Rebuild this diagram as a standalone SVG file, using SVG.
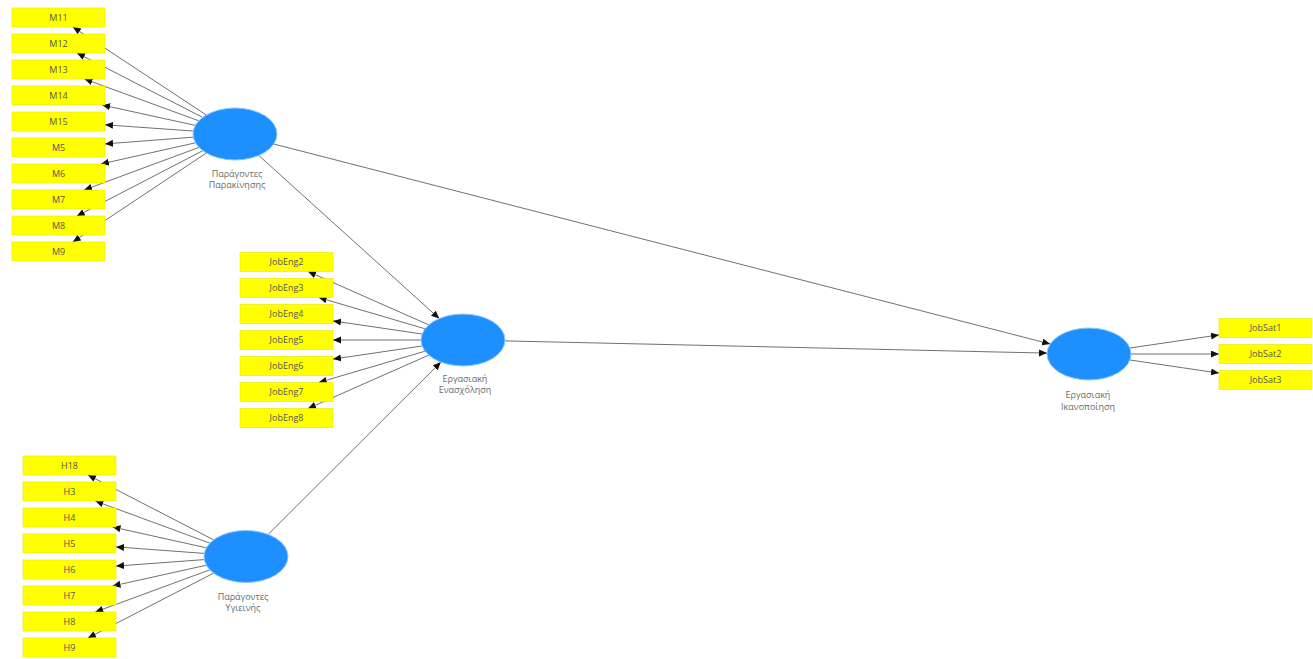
<svg xmlns="http://www.w3.org/2000/svg" width="1313" height="659" viewBox="0 0 1313 659">
<style>
.bg{fill:#ffffff}
.ind rect{fill:#ffff00;stroke:#e6e600;stroke-width:0.6}
.ind text{font-family:"Open Sans","Liberation Sans",sans-serif;font-size:9px;fill:#555555;text-anchor:middle}
.lv ellipse{fill:#1e8fff;stroke:#8cc8ff;stroke-width:1}
.lv text{font-family:"Open Sans","Liberation Sans",sans-serif;font-size:9px;fill:#6a6a6a;text-anchor:middle}
#connectors line{stroke:#606060;stroke-width:0.9;marker-end:url(#arr)}
</style>
<defs>
<marker id="arr" markerUnits="userSpaceOnUse" markerWidth="9" markerHeight="8" refX="8" refY="3.5" orient="auto">
<path d="M0,0 L8,3.5 L0,7 z" fill="#111111"/>
</marker>
</defs>
<rect class="bg" x="0" y="0" width="1313" height="659"/>
<g id="connectors">
<!-- Motivation -> indicators -->
<line x1="206.3" y1="115" x2="72.9" y2="27"/>
<line x1="202.7" y1="117.4" x2="77" y2="53"/>
<line x1="198.8" y1="120.8" x2="84.5" y2="79"/>
<line x1="195.4" y1="125.4" x2="102.1" y2="105"/>
<line x1="193.3" y1="131" x2="105" y2="124.8"/>
<line x1="193.3" y1="137.2" x2="105" y2="143.9"/>
<line x1="195.5" y1="142.8" x2="100.9" y2="164"/>
<line x1="199" y1="147.4" x2="84.1" y2="190"/>
<line x1="202.8" y1="150.7" x2="76.8" y2="216"/>
<line x1="206.4" y1="153" x2="72.8" y2="242"/>
<!-- Engagement -> indicators -->
<line x1="428.8" y1="324.9" x2="308" y2="271.5"/>
<line x1="425.1" y1="328.8" x2="318.7" y2="297.5"/>
<line x1="422.1" y1="334" x2="333" y2="320.9"/>
<line x1="421" y1="340" x2="333" y2="340"/>
<line x1="422.1" y1="346" x2="333" y2="359.1"/>
<line x1="425.1" y1="351.2" x2="318.7" y2="382.5"/>
<line x1="428.8" y1="355.1" x2="308" y2="408.5"/>
<!-- Hygiene -> indicators -->
<line x1="213.7" y1="539.9" x2="87.9" y2="475"/>
<line x1="209.9" y1="543.2" x2="95.3" y2="501"/>
<line x1="206.4" y1="547.8" x2="112.5" y2="527"/>
<line x1="204.3" y1="553.4" x2="116" y2="546.9"/>
<line x1="204.3" y1="559.6" x2="116" y2="566.1"/>
<line x1="206.4" y1="565.2" x2="112.5" y2="586"/>
<line x1="209.9" y1="569.8" x2="95.3" y2="612"/>
<line x1="213.7" y1="573.1" x2="87.9" y2="638"/>
<!-- Satisfaction -> indicators -->
<line x1="1129.9" y1="348" x2="1219" y2="334.9"/>
<line x1="1131" y1="354" x2="1219" y2="354"/>
<line x1="1129.9" y1="360" x2="1219" y2="373.1"/>
<!-- structural paths -->
<line x1="258.7" y1="155.4" x2="439.3" y2="318.6"/>
<line x1="273.8" y1="144" x2="1050.2" y2="344"/>
<line x1="505" y1="340.9" x2="1047" y2="353.1"/>
<line x1="268.1" y1="534.4" x2="440.9" y2="362.1"/>
</g>
<g id="M11" class="ind"><rect x="12" y="8" width="93" height="19"/><text x="58.5" y="20.5">M11</text></g>
<g id="M12" class="ind"><rect x="12" y="34" width="93" height="19"/><text x="58.5" y="46.5">M12</text></g>
<g id="M13" class="ind"><rect x="12" y="60" width="93" height="19"/><text x="58.5" y="72.5">M13</text></g>
<g id="M14" class="ind"><rect x="12" y="86" width="93" height="19"/><text x="58.5" y="98.5">M14</text></g>
<g id="M15" class="ind"><rect x="12" y="112" width="93" height="19"/><text x="58.5" y="124.5">M15</text></g>
<g id="M5" class="ind"><rect x="12" y="138" width="93" height="19"/><text x="58.5" y="150.5">M5</text></g>
<g id="M6" class="ind"><rect x="12" y="164" width="93" height="19"/><text x="58.5" y="176.5">M6</text></g>
<g id="M7" class="ind"><rect x="12" y="190" width="93" height="19"/><text x="58.5" y="202.5">M7</text></g>
<g id="M8" class="ind"><rect x="12" y="216" width="93" height="19"/><text x="58.5" y="228.5">M8</text></g>
<g id="M9" class="ind"><rect x="12" y="242" width="93" height="19"/><text x="58.5" y="254.5">M9</text></g>
<g id="JobEng2" class="ind"><rect x="240" y="252.5" width="93" height="19"/><text x="286.5" y="265">JobEng2</text></g>
<g id="JobEng3" class="ind"><rect x="240" y="278.5" width="93" height="19"/><text x="286.5" y="291">JobEng3</text></g>
<g id="JobEng4" class="ind"><rect x="240" y="304.5" width="93" height="19"/><text x="286.5" y="317">JobEng4</text></g>
<g id="JobEng5" class="ind"><rect x="240" y="330.5" width="93" height="19"/><text x="286.5" y="343">JobEng5</text></g>
<g id="JobEng6" class="ind"><rect x="240" y="356.5" width="93" height="19"/><text x="286.5" y="369">JobEng6</text></g>
<g id="JobEng7" class="ind"><rect x="240" y="382.5" width="93" height="19"/><text x="286.5" y="395">JobEng7</text></g>
<g id="JobEng8" class="ind"><rect x="240" y="408.5" width="93" height="19"/><text x="286.5" y="421">JobEng8</text></g>
<g id="H18" class="ind"><rect x="23" y="456" width="93" height="19"/><text x="69.5" y="468.5">H18</text></g>
<g id="H3" class="ind"><rect x="23" y="482" width="93" height="19"/><text x="69.5" y="494.5">H3</text></g>
<g id="H4" class="ind"><rect x="23" y="508" width="93" height="19"/><text x="69.5" y="520.5">H4</text></g>
<g id="H5" class="ind"><rect x="23" y="534" width="93" height="19"/><text x="69.5" y="546.5">H5</text></g>
<g id="H6" class="ind"><rect x="23" y="560" width="93" height="19"/><text x="69.5" y="572.5">H6</text></g>
<g id="H7" class="ind"><rect x="23" y="586" width="93" height="19"/><text x="69.5" y="598.5">H7</text></g>
<g id="H8" class="ind"><rect x="23" y="612" width="93" height="19"/><text x="69.5" y="624.5">H8</text></g>
<g id="H9" class="ind"><rect x="23" y="638" width="93" height="19"/><text x="69.5" y="650.5">H9</text></g>
<g id="JobSat1" class="ind"><rect x="1219" y="318.5" width="93" height="19"/><text x="1265.5" y="331">JobSat1</text></g>
<g id="JobSat2" class="ind"><rect x="1219" y="344.5" width="93" height="19"/><text x="1265.5" y="357">JobSat2</text></g>
<g id="JobSat3" class="ind"><rect x="1219" y="370.5" width="93" height="19"/><text x="1265.5" y="383">JobSat3</text></g>
<g id="Motivation" class="lv"><ellipse cx="235" cy="134" rx="42" ry="26"/><text x="237" y="177">Παράγοντες</text><text x="237" y="188">Παρακίνησης</text></g>
<g id="Engagement" class="lv"><ellipse cx="463" cy="340" rx="42" ry="26"/><text x="465" y="382">Εργασιακή</text><text x="465" y="393">Ενασχόληση</text></g>
<g id="Hygiene" class="lv"><ellipse cx="246" cy="556.5" rx="42" ry="26"/><text x="243" y="600">Παράγοντες</text><text x="243" y="611">Υγιεινής</text></g>
<g id="Satisfaction" class="lv"><ellipse cx="1089" cy="354" rx="42" ry="26"/><text x="1088" y="398">Εργασιακή</text><text x="1088" y="410">Ικανοποίηση</text></g>
</svg>
